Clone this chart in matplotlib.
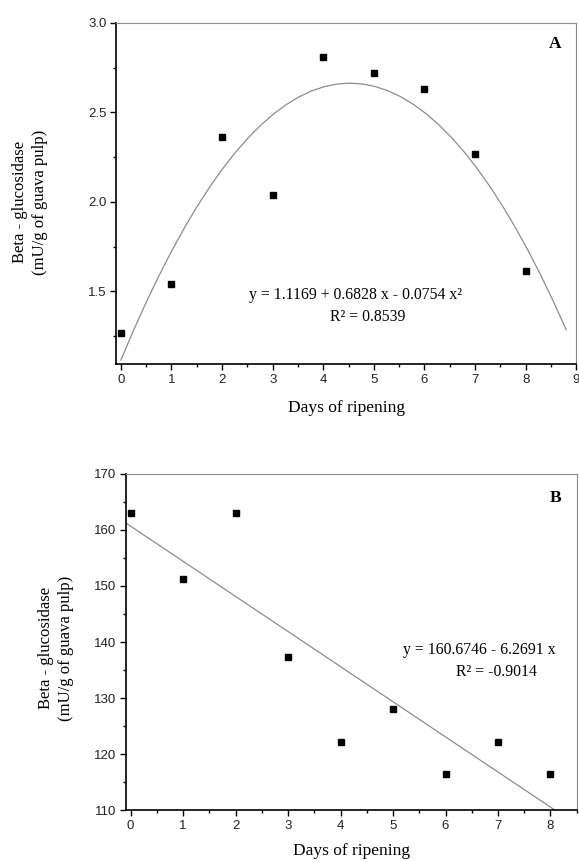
import numpy as np
import matplotlib
matplotlib.use("Agg")
import matplotlib.pyplot as plt
from matplotlib.ticker import MultipleLocator

# Days of ripening
days = [0, 1, 2, 3, 4, 5, 6, 7, 8]

# Panel A - beta-glucosidase (mU/g of guava pulp)
activity_a = [1.27, 1.54, 2.36, 2.04, 2.81, 2.72, 2.63, 2.27, 1.615]
# quadratic fit printed on the chart: y = b0 + b1 x + b2 x^2
fit_a = [1.1169, 0.6828, -0.0754]
fit_a_xmax = 8.8

# Panel B
activity_b = [163.0, 151.3, 163.0, 137.4, 122.2, 128.0, 116.4, 122.2, 116.4]
# linear fit printed on the chart: y = b0 + b1 x
fit_b = [160.6746, -6.2691]

SERIF = "Liberation Serif"
SANS = "Liberation Sans"
YLABEL = "Beta - glucosidase\n(mU/g of guava pulp)"


def style_axes(ax):
    for s in ["left", "bottom"]:
        ax.spines[s].set_color("black")
        ax.spines[s].set_linewidth(1.2)
    for s in ["top", "right"]:
        ax.spines[s].set_color("#8a8a8a")
        ax.spines[s].set_linewidth(0.8)
    ax.tick_params(which="major", direction="out", length=4.5, width=1.0, pad=2.5,
                   labelsize=9.5, top=False, right=False, labelcolor="#222222")
    ax.tick_params(which="minor", direction="out", length=2.5, width=1.0,
                   top=False, right=False)
    for lab in ax.get_xticklabels() + ax.get_yticklabels():
        lab.set_fontfamily(SANS)


fig = plt.figure(figsize=(5.79, 8.61), dpi=100)

# ---- Panel A ----
ax1 = fig.add_axes([0.2009, 0.5772, 0.7944, 0.3964])
ax1.plot(days, activity_a, "s", color="black", markersize=4.6, zorder=3)
xa = np.linspace(0, fit_a_xmax, 36)
ya = fit_a[0] + fit_a[1] * xa + fit_a[2] * xa ** 2
ax1.plot(xa, ya, color="#8c8c8c", linewidth=0.9)
ax1.set_xlim(-0.09, 9)
ax1.set_ylim(1.095, 3.0)
ax1.xaxis.set_major_locator(MultipleLocator(1))
ax1.xaxis.set_minor_locator(MultipleLocator(0.5))
ax1.yaxis.set_minor_locator(MultipleLocator(0.25))
ax1.set_yticks([1.5, 2.0, 2.5, 3.0])
style_axes(ax1)
ax1.set_xlabel("Days of ripening", fontfamily=SERIF, fontsize=12.5, labelpad=10)
ax1.text(4.63, 1.48, "y = 1.1169 + 0.6828 x - 0.0754 x²", fontfamily=SERIF,
         fontsize=11.3, ha="center", va="center")
ax1.text(4.88, 1.359, "R² = 0.8539", fontfamily=SERIF, fontsize=11.3,
         ha="center", va="center")
ax1.text(8.59, 2.883, "A", fontfamily=SERIF, fontsize=12.5, fontweight="bold",
         ha="center", va="center")
fig.text(30 / 579, 1 - 202 / 861, YLABEL, rotation=90, ha="center", va="center",
         multialignment="center", fontfamily=SERIF, fontsize=12, linespacing=1.3)

# ---- Panel B ----
ax2 = fig.add_axes([0.2171, 0.0592, 0.7789, 0.3903])
ax2.plot(days, activity_b, "s", color="black", markersize=4.6, zorder=3)
xb = np.linspace(-0.1, 8.2, 2)
yb = fit_b[0] + fit_b[1] * xb
ax2.plot(xb, yb, color="#8c8c8c", linewidth=0.9)
ax2.set_xlim(-0.095, 8.5)
ax2.set_ylim(110, 170)
ax2.set_xticks(days)
ax2.xaxis.set_minor_locator(MultipleLocator(0.5))
ax2.yaxis.set_major_locator(MultipleLocator(10))
ax2.yaxis.set_minor_locator(MultipleLocator(5))
style_axes(ax2)
ax2.set_xlabel("Days of ripening", fontfamily=SERIF, fontsize=12.5, labelpad=8)
ax2.text(6.65, 138.5, "y = 160.6746 - 6.2691 x", fontfamily=SERIF,
         fontsize=11.3, ha="center", va="center")
ax2.text(6.97, 134.6, "R² = -0.9014", fontfamily=SERIF, fontsize=11.3,
         ha="center", va="center")
ax2.text(8.1, 165.8, "B", fontfamily=SERIF, fontsize=12.5, fontweight="bold",
         ha="center", va="center")
fig.text(56 / 579, 1 - 648 / 861, YLABEL, rotation=90, ha="center", va="center",
         multialignment="center", fontfamily=SERIF, fontsize=12, linespacing=1.3)

fig.savefig("out.png", dpi=100)
